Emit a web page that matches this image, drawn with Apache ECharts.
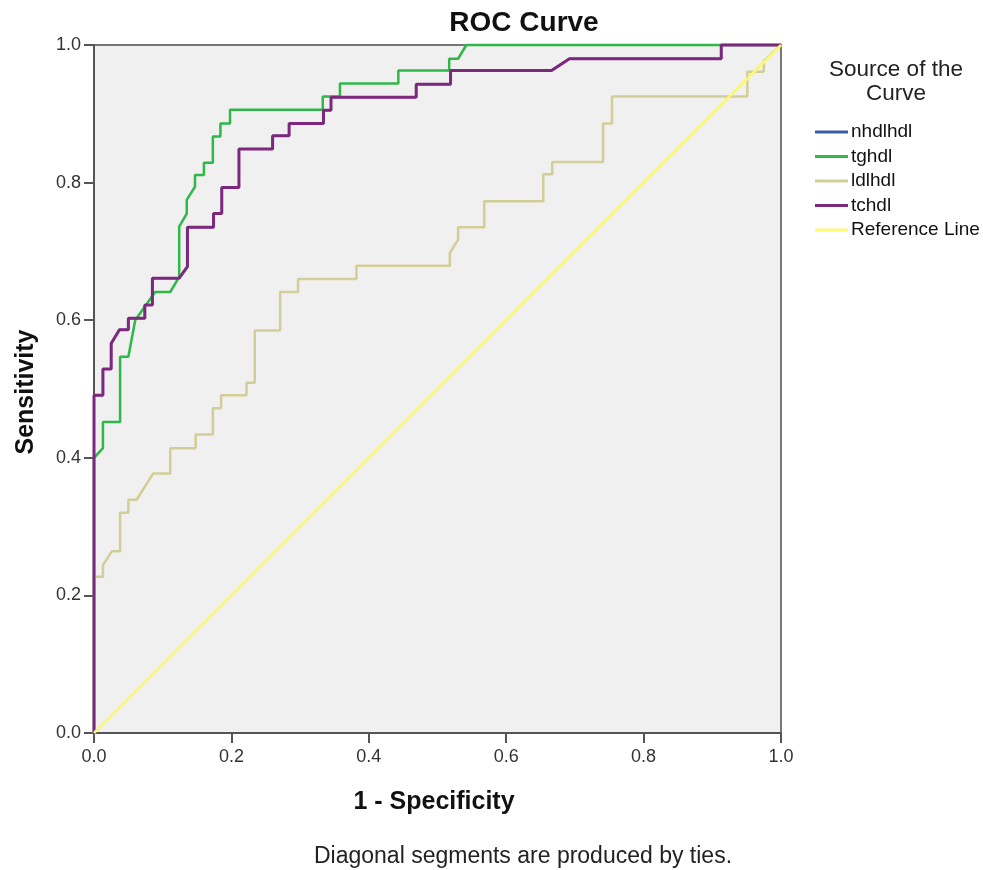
<!DOCTYPE html>
<html>
<head>
<meta charset="utf-8">
<script src="https://cdn.jsdelivr.net/npm/echarts@6/dist/echarts.min.js"></script>
<style>html,body{margin:0;padding:0;background:#fff}#c{width:983px;height:870px}</style>
</head>
<body>
<div id="c"></div>
<script>
// ---- data (1 - specificity, sensitivity) ----
const seriesNames = ['nhdlhdl', 'tghdl', 'ldlhdl', 'tchdl', 'Reference Line'];
const xTicks = [0, 0.2, 0.4, 0.6, 0.8, 1.0];
const yTicks = [0, 0.2, 0.4, 0.6, 0.8, 1.0];

const tchdl = [[0,0],[0,0.491],[0.013,0.491],[0.013,0.529],[0.025,0.529],[0.025,0.566],[0.037,0.586],[0.050,0.586],[0.050,0.603],[0.074,0.603],[0.074,0.622],[0.085,0.622],[0.085,0.661],[0.124,0.661],[0.136,0.678],[0.136,0.735],[0.174,0.735],[0.174,0.755],[0.186,0.755],[0.186,0.793],[0.211,0.793],[0.211,0.849],[0.260,0.849],[0.260,0.868],[0.284,0.868],[0.284,0.886],[0.334,0.886],[0.334,0.905],[0.345,0.905],[0.345,0.924],[0.469,0.924],[0.469,0.943],[0.519,0.943],[0.519,0.963],[0.666,0.963],[0.692,0.980],[0.913,0.980],[0.913,1.0],[1,1]];
// nhdlhdl is hidden beneath tchdl in the reference (identical curve)
const nhdlhdl = [[0,0],[0,0.491],[0.013,0.491],[0.013,0.529],[0.025,0.529],[0.025,0.566],[0.037,0.586],[0.050,0.586],[0.050,0.603],[0.074,0.603],[0.074,0.622],[0.085,0.622],[0.085,0.661],[0.124,0.661],[0.136,0.678],[0.136,0.735],[0.174,0.735],[0.174,0.755],[0.186,0.755],[0.186,0.793],[0.211,0.793],[0.211,0.849],[0.260,0.849],[0.260,0.868],[0.284,0.868],[0.284,0.886],[0.334,0.886],[0.334,0.905],[0.345,0.905],[0.345,0.924],[0.469,0.924],[0.469,0.943],[0.519,0.943],[0.519,0.963],[0.666,0.963],[0.692,0.980],[0.913,0.980],[0.913,1.0],[1,1]];
const tghdl = [[0,0],[0,0.400],[0.013,0.414],[0.013,0.452],[0.038,0.452],[0.038,0.547],[0.050,0.547],[0.060,0.600],[0.089,0.641],[0.111,0.641],[0.124,0.663],[0.124,0.736],[0.135,0.755],[0.135,0.775],[0.147,0.794],[0.147,0.811],[0.160,0.811],[0.160,0.829],[0.173,0.829],[0.173,0.867],[0.184,0.867],[0.184,0.886],[0.198,0.886],[0.198,0.906],[0.333,0.906],[0.333,0.925],[0.358,0.925],[0.358,0.944],[0.443,0.944],[0.443,0.963],[0.517,0.963],[0.517,0.980],[0.530,0.980],[0.542,1.0],[1,1]];
const ldlhdl = [[0,0],[0,0.227],[0.013,0.227],[0.013,0.244],[0.026,0.264],[0.038,0.264],[0.038,0.320],[0.050,0.320],[0.050,0.339],[0.062,0.339],[0.086,0.377],[0.111,0.377],[0.111,0.414],[0.148,0.414],[0.148,0.434],[0.173,0.434],[0.173,0.472],[0.185,0.472],[0.185,0.491],[0.222,0.491],[0.222,0.509],[0.234,0.509],[0.234,0.585],[0.271,0.585],[0.271,0.641],[0.297,0.641],[0.297,0.660],[0.382,0.660],[0.382,0.679],[0.518,0.679],[0.518,0.698],[0.530,0.717],[0.530,0.735],[0.568,0.735],[0.568,0.773],[0.654,0.773],[0.654,0.812],[0.667,0.812],[0.667,0.830],[0.741,0.830],[0.741,0.886],[0.754,0.886],[0.754,0.925],[0.951,0.925],[0.951,0.961],[0.975,0.961],[0.975,0.977],[1,1]];
const referenceLine = [[0,0],[1,1]];

const colors = ['#3E58AC', '#2EB848', '#D3CE97', '#7C287D', '#FBF873'];
const widths = [2, 2.5, 2.5, 3, 2.5];
const FONT = '"Liberation Sans", Arial, sans-serif';

const chart = echarts.init(document.getElementById('c'), null, {renderer: 'canvas'});
const dataList = [nhdlhdl, tghdl, ldlhdl, tchdl, referenceLine];

chart.setOption({
  animation: false,
  backgroundColor: '#ffffff',
  textStyle: {fontFamily: FONT},
  grid: {left: 94, top: 45, width: 687, height: 688, show: true,
         backgroundColor: '#f0f0f0', borderColor: '#777', borderWidth: 2},
  xAxis: {
    type: 'value', min: 0, max: 1, interval: 0.2,
    axisLine: {show: true, onZero: false, lineStyle: {color: '#555', width: 2}},
    axisTick: {show: true, length: 10, lineStyle: {color: '#555', width: 2}},
    splitLine: {show: false},
    axisLabel: {margin: 15, fontSize: 18, color: '#333', fontFamily: FONT,
                formatter: v => xTicks.includes(v) ? v.toFixed(1) : ''}
  },
  yAxis: {
    type: 'value', min: 0, max: 1, interval: 0.2,
    axisLine: {show: true, onZero: false, lineStyle: {color: '#555', width: 2}},
    axisTick: {show: true, length: 10, lineStyle: {color: '#555', width: 2}},
    splitLine: {show: false},
    axisLabel: {margin: 13, fontSize: 18, color: '#333', fontFamily: FONT,
                formatter: v => yTicks.includes(v) ? v.toFixed(1) : ''}
  },
  legend: {
    orient: 'vertical', left: 810, top: 117, itemGap: 4.5,
    itemWidth: 33, itemHeight: 3, icon: 'rect',
    textStyle: {fontSize: 19, lineHeight: 20, color: '#111', fontFamily: FONT, padding: [0,0,0,-2]},
    data: seriesNames
  },
  series: seriesNames.map((n, i) => ({
    name: n, type: 'line', data: dataList[i], symbol: 'none', clip: false,
    z: 2 + i,
    color: colors[i],
    lineStyle: {color: colors[i], width: widths[i]}
  })),
  graphic: [
    {type: 'text', x: 524, y: 23, style: {text: 'ROC Curve', font: 'bold 28px ' + FONT, fill: '#111', align: 'center', verticalAlign: 'middle'}},
    {type: 'text', x: 896, y: 70, style: {text: 'Source of the', font: '22.5px ' + FONT, fill: '#222', align: 'center', verticalAlign: 'middle'}},
    {type: 'text', x: 896, y: 94, style: {text: 'Curve', font: '22.5px ' + FONT, fill: '#222', align: 'center', verticalAlign: 'middle'}},
    {type: 'text', x: 434, y: 802, style: {text: '1 - Specificity', font: 'bold 25px ' + FONT, fill: '#111', align: 'center', verticalAlign: 'middle'}},
    {type: 'text', x: 26, y: 392, rotation: Math.PI / 2, style: {text: 'Sensitivity', font: 'bold 25px ' + FONT, fill: '#111', align: 'center', verticalAlign: 'middle'}},
    {type: 'text', x: 523, y: 857, style: {text: 'Diagonal segments are produced by ties.', font: '23px ' + FONT, fill: '#222', align: 'center', verticalAlign: 'middle'}}
  ]
});
</script>
</body>
</html>
